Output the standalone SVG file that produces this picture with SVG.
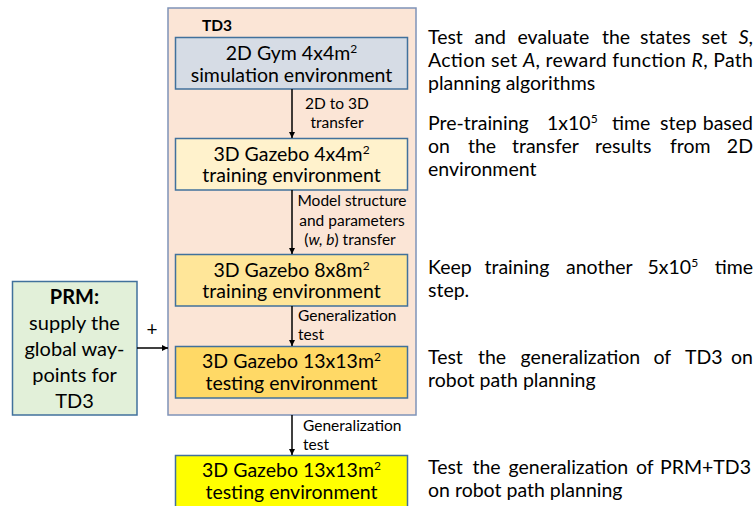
<svg xmlns="http://www.w3.org/2000/svg" width="754" height="506" viewBox="0 0 754 506">
<style>
.bx{stroke:#41719C;stroke-width:1.5}
.bt{font-family:Lato,"Liberation Sans",sans-serif;font-size:19.5px;fill:#000;text-anchor:middle}
.pt{font-family:Lato,"Liberation Sans",sans-serif;font-size:20px;fill:#000;text-anchor:middle}
.sm{font-family:Lato,"Liberation Sans",sans-serif;font-size:15.5px;fill:#000}
.rt{font-family:Lato,"Liberation Sans",sans-serif;font-size:19.5px;fill:#000}
.e{text-anchor:end}
.cn{stroke:#000;stroke-width:1.5;fill:none;marker-end:url(#ah)}
</style>
<defs>
<marker id="ah" viewBox="0 0 10 10" refX="10" refY="5" markerWidth="6" markerHeight="6" orient="auto" markerUnits="userSpaceOnUse">
<path d="M0,0 L10,5 L0,10 z" fill="#000"/>
</marker>
</defs>
<rect width="754" height="506" fill="#fff"/>
<g id="td3-group">
<rect x="168" y="8" width="248" height="407" fill="#FBE5D6" stroke="#7F93B8" stroke-width="1.5"/>
<text x="202" y="31" font-family="Lato,'Liberation Sans',sans-serif" font-size="15.5" font-weight="bold">TD3</text>
</g>
<g id="gym2d">
<rect class="bx" x="175.5" y="37.5" width="232" height="51.5" fill="#D6DCE5"/>
<text class="bt" x="291.5" y="60">2D Gym 4x4m<tspan font-size="12" dy="-7">2</tspan></text>
<text class="bt" x="291.5" y="81.5">simulation environment</text>
</g>
<g id="gazebo4">
<rect class="bx" x="175.5" y="138.5" width="232" height="51.5" fill="#FFF2CC"/>
<text class="bt" x="291.5" y="160.5">3D Gazebo 4x4m<tspan font-size="12" dy="-7">2</tspan></text>
<text class="bt" x="291.5" y="182">training environment</text>
</g>
<g id="gazebo8">
<rect class="bx" x="175.5" y="254.5" width="232" height="51.5" fill="#FFE699"/>
<text class="bt" x="291.5" y="276.5">3D Gazebo 8x8m<tspan font-size="12" dy="-7">2</tspan></text>
<text class="bt" x="291.5" y="298">training environment</text>
</g>
<g id="gazebo13">
<rect class="bx" x="175.5" y="346.5" width="232" height="51.5" fill="#FFD966"/>
<text class="bt" x="291.5" y="368">3D Gazebo 13x13m<tspan font-size="12" dy="-7">2</tspan></text>
<text class="bt" x="291.5" y="390">testing environment</text>
</g>
<g id="gazebo13-prm">
<rect class="bx" x="175.5" y="455.5" width="232" height="52" fill="#FFFF00"/>
<text class="bt" x="291.5" y="477">3D Gazebo 13x13m<tspan font-size="12" dy="-7">2</tspan></text>
<text class="bt" x="291.5" y="499">testing environment</text>
</g>
<g id="prm">
<rect class="bx" x="12.5" y="281.5" width="124.5" height="133.5" fill="#E2F0D9"/>
<text class="pt" x="74.5" y="304" font-weight="bold">PRM:</text>
<text class="pt" x="74.5" y="330">supply the</text>
<text class="pt" x="74.5" y="356">global way-</text>
<text class="pt" x="74.5" y="382">points for</text>
<text class="pt" x="74.5" y="408">TD3</text>
</g>
<g id="connectors">
<line class="cn" x1="292" y1="89" x2="292" y2="138"/>
<line class="cn" x1="292" y1="190" x2="292" y2="254"/>
<line class="cn" x1="292" y1="306" x2="292" y2="346"/>
<line class="cn" x1="292" y1="415" x2="292" y2="455"/>
<line class="cn" x1="137" y1="348" x2="168" y2="348"/>
<text class="sm" x="337" y="109" text-anchor="middle">2D to 3D</text>
<text class="sm" x="337" y="128" text-anchor="middle">transfer</text>
<text class="sm" x="352" y="206" text-anchor="middle">Model structure</text>
<text class="sm" x="352" y="226" text-anchor="middle">and parameters</text>
<text class="sm" x="350" y="245" text-anchor="middle">(<tspan font-style="italic">w, b</tspan>) transfer</text>
<text class="sm" x="298" y="321">Generalization</text>
<text class="sm" x="298" y="340">test</text>
<text class="sm" x="303" y="431">Generalization</text>
<text class="sm" x="303" y="450">test</text>
<text x="152" y="336" font-family="Lato,'Liberation Sans',sans-serif" font-size="19" text-anchor="middle">+</text>
</g>
<g id="notes">
<text class="rt" y="44"><tspan x="428">Test</tspan><tspan x="474.5">and</tspan><tspan x="517.5">evaluate</tspan><tspan x="602">the</tspan><tspan x="640">states</tspan><tspan x="701.5">set</tspan></text>
<text class="rt e" x="753" y="44" font-style="italic">S<tspan font-style="normal">,</tspan></text>
<text class="rt" x="428" y="67" textLength="325" lengthAdjust="spacing">Action set <tspan font-style="italic">A</tspan>, reward function <tspan font-style="italic">R</tspan>, Path</text>
<text class="rt" x="428" y="90">planning algorithms</text>
<text class="rt" y="130"><tspan x="428">Pre-training</tspan><tspan x="547">1x10</tspan><tspan dy="-7" font-size="12">5</tspan><tspan x="612" dy="7">time</tspan><tspan x="660">step</tspan></text>
<text class="rt e" x="753" y="130">based</text>
<text class="rt" y="153"><tspan x="428">on</tspan><tspan x="468">the</tspan><tspan x="512">transfer</tspan><tspan x="595">results</tspan><tspan x="670">from</tspan></text>
<text class="rt e" x="753" y="153">2D</text>
<text class="rt" x="428" y="176">environment</text>
<text class="rt" y="274"><tspan x="428">Keep</tspan><tspan x="484.5">training</tspan><tspan x="566">another</tspan><tspan x="647.5">5x10</tspan><tspan dy="-7" font-size="12">5</tspan></text>
<text class="rt e" x="753" y="274">time</text>
<text class="rt" x="428" y="297">step.</text>
<text class="rt" y="364"><tspan x="428">Test</tspan><tspan x="478">the</tspan><tspan x="520.5">generalization</tspan><tspan x="653.5">of</tspan><tspan x="685">TD3</tspan></text>
<text class="rt e" x="753" y="364">on</text>
<text class="rt" x="428" y="387">robot path planning</text>
<text class="rt" y="474"><tspan x="428">Test</tspan><tspan x="472.5">the</tspan><tspan x="508.5">generalization</tspan><tspan x="636">of</tspan></text>
<text class="rt e" x="751" y="474">PRM+TD3</text>
<text class="rt" x="428" y="497">on robot path planning</text>
</g>
</svg>
